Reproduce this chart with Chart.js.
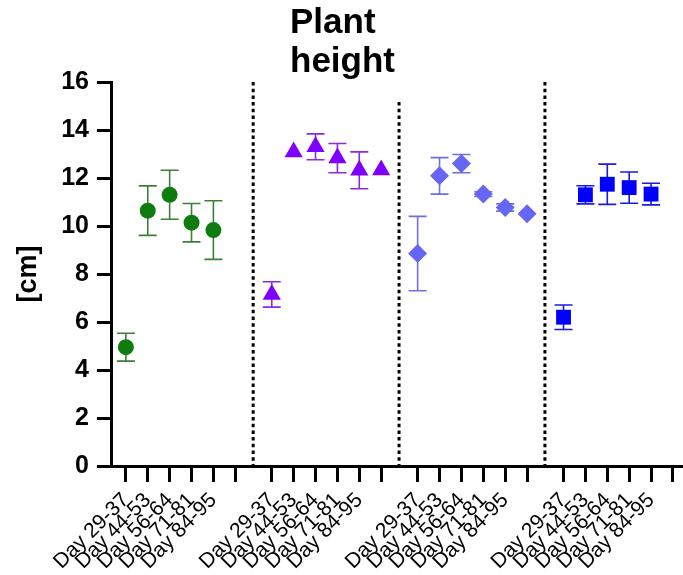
<!DOCTYPE html>
<html>
<head>
<meta charset="utf-8">
<script src="https://cdn.jsdelivr.net/npm/chart.js@4/dist/chart.umd.min.js"></script>
<style>
    html, body { margin: 0; padding: 0; background: #fff; overflow: hidden; }
    canvas { display: block; }
</style>
</head>
<body>
<canvas id="chart" width="683" height="575"></canvas>
<script>
const days = ['Day 29-37', 'Day 44-53', 'Day 56-64', 'Day 71-81', 'Day 84-95', ''];
const yTicks = [0, 2, 4, 6, 8, 10, 12, 14, 16];

const greenMean = [4.95, 10.64, 11.3, 10.14, 9.83];
const greenErr = [0.58, 1.03, 1.02, 0.8, 1.22];
const purpleMean = [7.15, 13.08, 13.3, 12.83, 12.32, 12.33];
const purpleErr = [0.53, 0, 0.54, 0.61, 0.77, 0];
const lilacMean = [8.85, 12.09, 12.6, 11.33, 10.77, 10.51];
const lilacErr = [1.55, 0.76, 0.38, 0.1, 0.15, 0];
const blueMean = [6.2, 11.3, 11.74, 11.6, 11.33];
const blueErr = [0.51, 0.38, 0.84, 0.65, 0.45];

const groupStep = 20 / 3;
const font = 'Liberation Sans, Arial, sans-serif';

// x position of a point: group offset + slot in group
const xPos = (g, i) => g * groupStep + i;

const groups = [
    { mean: greenMean, err: greenErr, color: '#107c10', bar: '#3a803a', shape: 'circle', r: 8 },
    { mean: purpleMean, err: purpleErr, color: '#8000ff', bar: '#8a2be2', shape: 'triangle', r: 10.5 },
    { mean: lilacMean, err: lilacErr, color: '#6666f5', bar: '#6f6fe0', shape: 'rectRot', r: 9.5 },
    { mean: blueMean, err: blueErr, color: '#0000ff', bar: '#1a1ae6', shape: 'rect', r: 10.5 }
];

const tickPos = [];
const tickLabel = {};
groups.forEach((grp, g) => {
    days.forEach((d, i) => {
        const x = xPos(g, i);
        tickPos.push(x);
        tickLabel[x.toFixed(3)] = d;
    });
});

const datasets = groups.map((grp, g) => ({
    data: grp.mean.map((v, i) => ({ x: xPos(g, i), y: v, e: grp.err[i] })),
    backgroundColor: grp.color,
    borderColor: grp.color,
    borderWidth: 0,
    pointStyle: grp.shape,
    pointRadius: grp.r,
    pointHoverRadius: grp.r,
    showLine: false
}));

const errorBars = {
    id: 'errorBars',
    beforeDatasetsDraw(chart) {
        const { ctx, scales: { x, y } } = chart;
        ctx.save();
        ctx.lineWidth = 1.6;
        chart.data.datasets.forEach((ds, di) => {
            ctx.strokeStyle = groups[di].bar;
            ds.data.forEach(p => {
                if (!p.e) return;
                const px = x.getPixelForValue(p.x);
                const top = y.getPixelForValue(p.y + p.e);
                const bot = y.getPixelForValue(p.y - p.e);
                ctx.beginPath();
                ctx.moveTo(px, top); ctx.lineTo(px, bot);
                ctx.moveTo(px - 9, top); ctx.lineTo(px + 9, top);
                ctx.moveTo(px - 9, bot); ctx.lineTo(px + 9, bot);
                ctx.stroke();
            });
        });
        ctx.restore();
    }
};

const separators = {
    id: 'separators',
    beforeDatasetsDraw(chart) {
        const { ctx, chartArea, scales: { x } } = chart;
        ctx.save();
        ctx.strokeStyle = '#000';
        ctx.lineWidth = 3;
        ctx.setLineDash([3.5, 3.2]);
        for (let g = 1; g < groups.length; g++) {
            const px = x.getPixelForValue(xPos(g, 0) - 0.85);
            ctx.beginPath();
            ctx.moveTo(px, chartArea.top);
            ctx.lineTo(px, chartArea.bottom);
            ctx.stroke();
        }
        ctx.restore();
    }
};

const titleText = {
    id: 'titleText',
    afterDraw(chart) {
        const { ctx } = chart;
        ctx.save();
        ctx.fillStyle = '#fff';
        ctx.fillRect(286, 0, 118, 99);
        ctx.fillStyle = '#000';
        ctx.font = 'bold 35px ' + font;
        ctx.textAlign = 'left';
        ctx.textBaseline = 'alphabetic';
        ctx.fillText('Plant', 290, 33);
        ctx.fillText('height', 290, 72);
        ctx.restore();
    }
};

new Chart(document.getElementById('chart'), {
    type: 'scatter',
    data: { datasets },
    options: {
        responsive: false,
        animation: false,
        layout: { autoPadding: false, padding: { top: 82, left: 0, right: 0, bottom: 0 } },
        plugins: {
            legend: { display: false },
            tooltip: { enabled: false }
        },
        scales: {
            x: {
                type: 'linear',
                min: -0.68,
                max: 3 * groupStep + 5.46,
                afterBuildTicks: (scale) => {
                    scale.ticks = tickPos.map(v => ({ value: v }));
                },
                afterFit: (scale) => {
                    scale.height = 109;
                    scale.paddingLeft = 0;
                    scale.paddingRight = 0;
                },
                border: { display: true, color: '#000', width: 3 },
                grid: {
                    display: true,
                    drawOnChartArea: false,
                    drawTicks: true,
                    tickLength: 16,
                    tickWidth: 3,
                    tickColor: '#000'
                },
                ticks: {
                    autoSkip: false,
                    minRotation: 45,
                    maxRotation: 45,
                    padding: 6,
                    color: '#000',
                    font: { family: font, size: 21 },
                    callback: (v) => tickLabel[Number(v).toFixed(3)] ?? ''
                }
            },
            y: {
                min: 0,
                max: 16,
                afterBuildTicks: (scale) => {
                    scale.ticks = yTicks.map(v => ({ value: v }));
                },
                afterFit: (scale) => {
                    scale.width = 111;
                    scale.paddingTop = 0;
                    scale.paddingBottom = 0;
                },
                border: { display: true, color: '#000', width: 3 },
                grid: {
                    display: true,
                    drawOnChartArea: false,
                    drawTicks: true,
                    tickLength: 14,
                    tickWidth: 3,
                    tickColor: '#000'
                },
                ticks: {
                    padding: 8,
                    color: '#000',
                    font: { family: font, size: 25, weight: 'bold' }
                },
                title: {
                    display: true,
                    text: '[cm]',
                    color: '#000',
                    padding: { top: 12, bottom: 0 },
                    font: { family: font, size: 27, weight: 'bold' }
                }
            }
        }
    },
    plugins: [separators, errorBars, titleText]
});
</script>
</body>
</html>
